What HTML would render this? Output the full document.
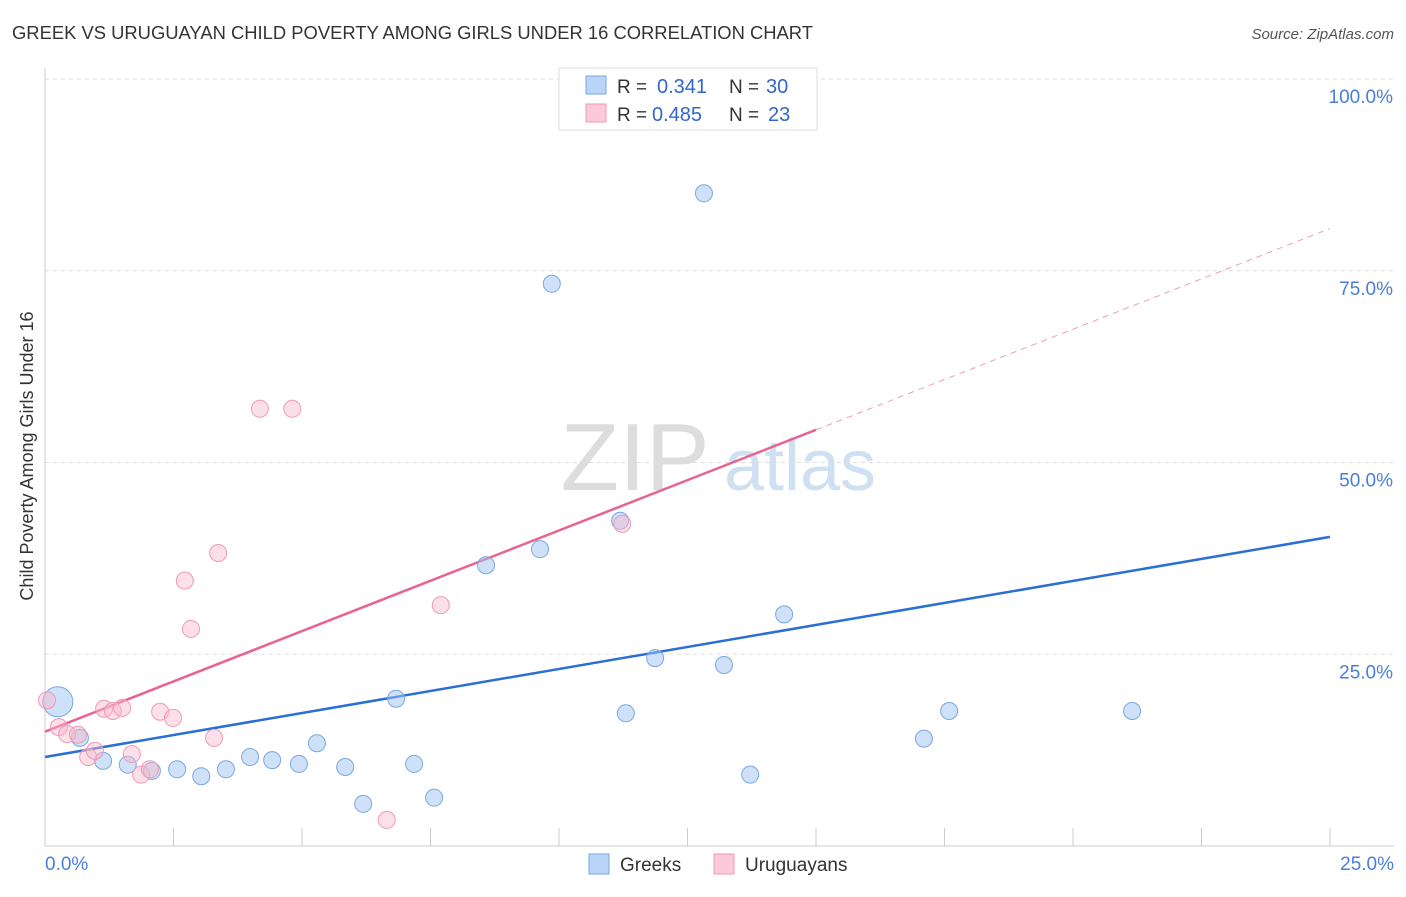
<!DOCTYPE html>
<html><head><meta charset="utf-8"><style>
body{margin:0;background:#fff;font-family:"Liberation Sans",sans-serif}
svg text{font-family:"Liberation Sans",sans-serif}
</style></head><body>
<svg id="chart" width="1406" height="892" viewBox="0 0 1406 892">
<text x="12" y="39" font-size="18" fill="#333" textLength="801" lengthAdjust="spacingAndGlyphs">GREEK VS URUGUAYAN CHILD POVERTY AMONG GIRLS UNDER 16 CORRELATION CHART</text>
<text x="1394" y="39" font-size="15" fill="#555" text-anchor="end" font-style="italic">Source: ZipAtlas.com</text>
<g>
<text x="635" y="490" font-size="96" fill="#ddd" text-anchor="middle" font-family="Liberation Serif">ZIP</text>
<text x="800" y="490" font-size="72" fill="#cfe0f3" text-anchor="middle">atlas</text>
</g>
<g id="grid"></g>
<g id="axes"></g>
<text transform="translate(33,456) rotate(-90)" font-size="18" fill="#333" text-anchor="middle">Child Poverty Among Girls Under 16</text>
<g id="lines"></g>
<g id="points"></g>
<g>
<rect x="559" y="68" width="258" height="62" fill="#fff" stroke="#ddd"/>
<rect x="586" y="76" width="20" height="18" fill="#b8d4f6" stroke="#7aa7e0"/>
<rect x="586" y="104" width="20" height="18" fill="#fbc9d8" stroke="#ef9ab4"/>
<text x="617" y="93" font-size="19" fill="#333">R =</text>
<text x="657" y="93" font-size="20" fill="#3366cc">0.341</text>
<text x="729" y="93" font-size="19" fill="#333">N =</text>
<text x="766" y="93" font-size="20" fill="#3366cc">30</text>
<text x="617" y="121" font-size="19" fill="#333">R =</text>
<text x="652" y="121" font-size="20" fill="#3366cc">0.485</text>
<text x="729" y="121" font-size="19" fill="#333">N =</text>
<text x="768" y="121" font-size="20" fill="#3366cc">23</text>
</g>
<g>
<rect x="589" y="854" width="20" height="20" fill="#b8d4f6" stroke="#7aa7e0"/>
<text x="620" y="871" font-size="19" fill="#333">Greeks</text>
<rect x="714" y="854" width="20" height="20" fill="#fbc9d8" stroke="#ef9ab4"/>
<text x="745" y="871" font-size="19" fill="#333">Uruguayans</text>
</g>
</svg>
<script>
const yTicks=[25,50,75,100];
const yTickLabels=["25.0%","50.0%","75.0%","100.0%"];
const greekX=[0.25,0.68,1.13,1.61,2.08,2.57,3.04,3.52,3.99,4.42,4.94,5.29,5.84,6.19,6.83,7.18,7.57,8.58,9.63,9.86,11.19,11.30,11.87,12.82,13.21,13.72,14.38,17.1,17.59,21.15];
const greekY=[18.8,14.1,11.1,10.6,9.8,10.0,9.1,10.0,11.6,11.2,10.7,13.4,10.3,5.5,19.2,10.7,6.3,36.6,38.7,73.3,42.4,17.3,24.5,85.1,23.6,9.3,30.2,14.0,17.6,17.6];
const uruX=[0.04,0.27,0.43,0.64,0.84,0.97,1.15,1.32,1.5,1.69,1.87,2.04,2.24,2.49,2.72,2.84,3.29,3.37,4.18,4.81,6.65,7.70,11.23];
const uruY=[19.0,15.5,14.6,14.5,11.6,12.4,17.9,17.6,18.0,12.0,9.3,10.0,17.5,16.7,34.6,28.3,14.1,38.2,57.0,57.0,3.4,31.4,42.0];
const greekLine=[11.6,40.3];
const uruLine=[14.9,80.5];
const uruSolidEnd=15;
const X=v=>45+v*51.4, Y=v=>846-v*7.67;
const NS="http://www.w3.org/2000/svg";
function mk(t,a,p){const e=document.createElementNS(NS,t);for(const k in a)e.setAttribute(k,a[k]);p.appendChild(e);return e;}
const grid=document.getElementById('grid'),axes=document.getElementById('axes'),lines=document.getElementById('lines'),pts=document.getElementById('points');
yTicks.forEach((t,i)=>{
 const l=mk('line',{x1:45,x2:1394,y1:Y(t),y2:Y(t),stroke:'#ddd','stroke-dasharray':'4,4'},grid);
 
 
 const tx=mk('text',{x:1393,y:Y(t)+24,'font-size':19,fill:'#4a7fd6','text-anchor':'end'},axes);
 tx.textContent=yTickLabels[i];
 
 
});
const ax=mk('line',{x1:45,x2:1394,y1:846,y2:846,stroke:'#ccc'},axes);


const ay=mk('line',{x1:45,x2:45,y1:68,y2:846,stroke:'#ccc'},axes);


for(let i=0;i<=10;i++){const v=i*2.5;
 const t=mk('line',{x1:X(v),x2:X(v),y1:828,y2:846,stroke:'#ccc'},axes);
 
 }
[[0,"0.0%","start",45],[25,"25.0%","end",1394]].forEach(d=>{
 const t=mk('text',{x:d[3],y:870,'font-size':19,fill:'#4a7fd6','text-anchor':d[2]},axes);
 t.textContent=d[1];
 
 });
greekX.forEach((x,i)=>{const c=mk('circle',{cx:X(x),cy:Y(greekY[i]),r:i==0?15:8.5,fill:'rgba(160,196,242,0.5)',stroke:'#7aa7e0','stroke-width':1},pts);
 
 });
uruX.forEach((x,i)=>{const c=mk('circle',{cx:X(x),cy:Y(uruY[i]),r:8.5,fill:'rgba(248,185,205,0.45)',stroke:'#ef9ab4','stroke-width':1},pts);
 
 });
const ug=v=>uruLine[0]+(uruLine[1]-uruLine[0])*v/25;
const bl=mk('line',{x1:X(0),y1:Y(greekLine[0]),x2:X(25),y2:Y(greekLine[1]),stroke:'#2a6fd6','stroke-width':2.5},lines);


const pl=mk('line',{x1:X(0),y1:Y(ug(0)),x2:X(uruSolidEnd),y2:Y(ug(uruSolidEnd)),stroke:'#e8648e','stroke-width':2.5},lines);


const pd=mk('line',{x1:X(uruSolidEnd),y1:Y(ug(uruSolidEnd)),x2:X(25),y2:Y(ug(25)),stroke:'#e8a0b6','stroke-width':1,'stroke-dasharray':'6,5'},lines);


</script>
</body></html>
